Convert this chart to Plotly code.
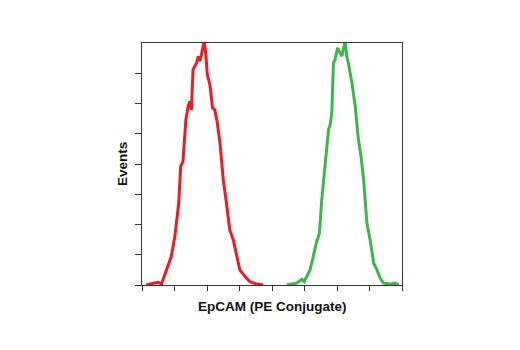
import plotly.graph_objects as go

# Red histogram (unstained / control)
red_x = [0.13, 0.49, 0.60, 0.75, 0.90, 1.01, 1.13, 1.19, 1.26, 1.35, 1.42, 1.47, 1.52, 1.57,
         1.68, 1.73, 1.78, 1.83, 1.88, 1.91, 1.96, 2.01, 2.09, 2.17, 2.24, 2.31, 2.40, 2.50,
         2.60, 2.70, 2.81, 2.91, 3.01, 3.17, 3.32, 3.53, 3.73]
red_y = [0.0, 0.09, 0.03, 0.50, 0.94, 1.60, 2.70, 3.92, 4.08, 5.46, 5.91, 6.07, 5.79, 7.12,
         7.34, 7.56, 7.40, 7.62, 7.84, 8.05, 7.67, 6.95, 6.62, 5.85, 5.79, 5.41, 4.69, 3.48,
         2.70, 1.82, 1.49, 0.94, 0.50, 0.28, 0.11, 0.03, 0.0]

# Green histogram (EpCAM PE conjugate)
green_x = [4.45, 4.76, 4.92, 4.99, 5.07, 5.17, 5.27, 5.36, 5.46, 5.53, 5.63, 5.74, 5.79, 5.84,
           5.89, 5.94, 6.02, 6.08, 6.15, 6.20, 6.25, 6.30, 6.35, 6.46, 6.56, 6.66, 6.74, 6.82,
           6.92, 7.02, 7.13, 7.23, 7.33, 7.43, 7.64, 7.79, 7.90]
green_y = [0.0, 0.06, 0.19, 0.11, 0.28, 0.50, 0.94, 1.38, 1.71, 2.81, 3.92, 5.13, 5.30, 5.68,
           7.34, 7.45, 7.84, 7.73, 7.56, 7.84, 8.05, 7.56, 7.34, 6.68, 5.91, 4.80, 4.25, 3.48,
           2.04, 1.49, 0.72, 0.50, 0.22, 0.06, 0.03, 0.06, 0.0]

x_ticks = [0, 1, 2, 3, 4, 5, 6, 7, 8]
y_ticks = [0, 1, 2, 3, 4, 5, 6, 7]

title_font = "Arial, Liberation Sans, sans-serif"

fig = go.Figure()
fig.add_trace(go.Scatter(x=red_x, y=red_y, mode="lines",
                         line=dict(color="#ec1c24", width=3), hoverinfo="skip"))
fig.add_trace(go.Scatter(x=green_x, y=green_y, mode="lines",
                         line=dict(color="#3db54a", width=3), hoverinfo="skip"))

fig.update_layout(
    width=520, height=350,
    margin=dict(l=142, r=118, t=43, b=65),
    paper_bgcolor="white", plot_bgcolor="white",
    showlegend=False,
    font=dict(family="Arial, Liberation Sans, sans-serif", color="#111"),
    xaxis=dict(range=[0, 8], tickvals=x_ticks, showticklabels=False, ticks="outside",
               ticklen=5, tickwidth=1, tickcolor="#333", showgrid=False, zeroline=False,
               showline=True, linecolor="#333", linewidth=1, mirror=True),
    yaxis=dict(range=[0, 8], tickvals=y_ticks, showticklabels=False, ticks="outside",
               ticklen=6, tickwidth=1, tickcolor="#333", showgrid=False, zeroline=False,
               showline=True, linecolor="#333", linewidth=1, mirror=True),
    annotations=[
        dict(text="<b>EpCAM (PE Conjugate)</b>", xref="paper", yref="paper",
             x=0.5, y=0, yshift=-21, xanchor="center", yanchor="middle",
             showarrow=False, font=dict(size=13.5, color="#111", family=title_font)),
        dict(text="<b>Events</b>", xref="paper", yref="paper",
             x=0, y=0.5, xshift=-20, xanchor="center", yanchor="middle",
             textangle=-90, showarrow=False, font=dict(size=13.5, color="#111", family=title_font)),
    ],
)

fig.write_html("out.html")
